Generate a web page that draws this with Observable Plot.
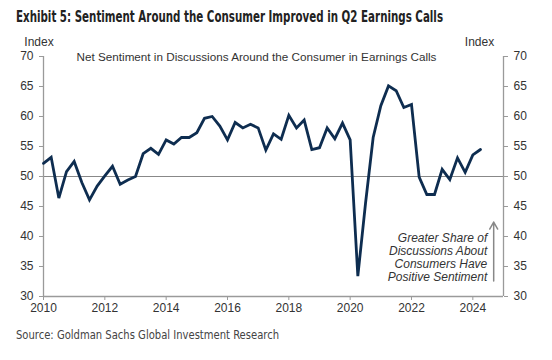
<!DOCTYPE html>
<html><head><meta charset="utf-8">
<script src="https://cdn.jsdelivr.net/npm/d3@7"></script>
<script src="https://cdn.jsdelivr.net/npm/@observablehq/plot@0.6"></script>
<style>
body{margin:0;background:#fff;width:552px;height:360px;overflow:hidden}
#title{height:30px;padding-left:16px;overflow:visible}
#title span{display:inline-block;font-family:"DejaVu Sans Condensed","Roboto",sans-serif;font-weight:bold;font-size:15.5px;color:#222;line-height:34px;white-space:nowrap;transform-origin:0 50%}
#chart{height:295px}
#source{height:20px;padding-left:16px}
#source span{display:inline-block;font-family:"DejaVu Sans Condensed","Roboto",sans-serif;font-size:13px;color:#444;line-height:18px;white-space:nowrap;transform-origin:0 50%}
</style></head>
<body>
<div id="title"><span>Exhibit 5: Sentiment Around the Consumer Improved in Q2 Earnings Calls</span></div>
<div id="chart"></div>
<div id="source"><span>Source: Goldman Sachs Global Investment Research</span></div>
<script>
const quarters = [
"2010Q1","2010Q2","2010Q3","2010Q4","2011Q1","2011Q2","2011Q3","2011Q4",
"2012Q1","2012Q2","2012Q3","2012Q4","2013Q1","2013Q2","2013Q3","2013Q4",
"2014Q1","2014Q2","2014Q3","2014Q4","2015Q1","2015Q2","2015Q3","2015Q4",
"2016Q1","2016Q2","2016Q3","2016Q4","2017Q1","2017Q2","2017Q3","2017Q4",
"2018Q1","2018Q2","2018Q3","2018Q4","2019Q1","2019Q2","2019Q3","2019Q4",
"2020Q1","2020Q2","2020Q3","2020Q4","2021Q1","2021Q2","2021Q3","2021Q4",
"2022Q1","2022Q2","2022Q3","2022Q4","2023Q1","2023Q2","2023Q3","2023Q4",
"2024Q1","2024Q2"];
const sentiment = [
52.2,53.2,46.4,50.8,52.5,49.0,46.1,48.4,
50.1,51.7,48.7,49.4,50.0,53.8,54.7,53.7,
56.1,55.4,56.5,56.5,57.3,59.7,60.0,58.4,
56.1,59.0,58.1,58.7,58.1,54.4,57.1,56.2,
60.2,58.1,59.4,54.5,54.8,58.1,56.3,58.9,
56.1,33.4,45.5,56.5,61.8,65.1,64.3,61.5,
62.0,49.9,47.0,47.0,51.2,49.5,53.1,50.7,
53.6,54.5];
const yTicks = [30,35,40,45,50,55,60,65,70];
const xTicks = [2010,2012,2014,2016,2018,2020,2022,2024];
const subtitle = "Net Sentiment in Discussions Around the Consumer in Earnings Calls";
const annotation = "Greater Share of\nDiscussions About\nConsumers Have\nPositive Sentiment";

const data = quarters.map((q, i) => ({
  t: +q.slice(0, 4) + (+q.slice(5) - 1) / 4,
  v: sentiment[i]
}));

const axisColor = "#9a9a9a";
const chart = Plot.plot({
  width: 552,
  height: 295,
  marginLeft: 43,
  marginRight: 49,
  marginTop: 26,
  marginBottom: 29,
  style: {fontFamily: "'Liberation Sans', Arial, sans-serif", fontSize: "12px", color: "#333", background: "#fff"},
  x: {domain: [2010, 2025]},
  y: {domain: [30, 70]},
  marks: [
    Plot.ruleY([50], {stroke: "#888", strokeWidth: 1}),
    Plot.ruleY([30], {stroke: axisColor, strokeWidth: 1.3}),
    Plot.ruleX([2010, 2025], {stroke: axisColor, strokeWidth: 1.3}),
    Plot.axisX({ticks: xTicks, tickFormat: d => String(d), tickSize: 4, tickPadding: 3, label: null, stroke: axisColor, fontSize: 12}),
    Plot.axisY({anchor: "left", ticks: yTicks, tickSize: 4, tickPadding: 6, label: null, stroke: axisColor, fontSize: 12}),
    Plot.axisY({anchor: "right", ticks: yTicks, tickSize: 4, tickPadding: 6, label: null, stroke: axisColor, fontSize: 12}),
    Plot.line(data, {x: "t", y: "v", stroke: "#0e2d50", strokeWidth: 2.8, strokeLinejoin: "miter", strokeMiterlimit: 3}),
    Plot.text([subtitle], {frameAnchor: "top", dx: -17, dy: -3.5, fontSize: 11.7, fill: "#333", text: d => d, wordSpacing: "1px"}),
    Plot.text(["Index"], {frameAnchor: "top-left", dx: -4.5, dy: -19, fontSize: 12, fill: "#333", text: d => d, textAnchor: "middle"}),
    Plot.text(["Index"], {frameAnchor: "top-right", dx: -24, dy: -19, fontSize: 12, fill: "#333", text: d => d, textAnchor: "middle"}),
    Plot.text([annotation], {x: () => 2024.47, y: () => 36.5, text: d => d, textAnchor: "end", lineAnchor: "middle", lineHeight: 1.07, fontStyle: "italic", fontSize: 12, fill: "#333"}),
    Plot.arrow([{x1: 2024.68, y1: 32.6, x2: 2024.68, y2: 42.4}], {x1: "x1", y1: "y1", x2: "x2", y2: "y2", stroke: "#888", strokeWidth: 1.5, headLength: 8})
  ]
});
document.getElementById("chart").appendChild(chart);

function fitWidth(sel, target) {
  const el = document.querySelector(sel);
  const w = el.getBoundingClientRect().width;
  if (w > 0) el.style.transform = `scaleX(${target / w})`;
}
fitWidth("#title span", 427);
fitWidth("#source span", 263);
</script>
</body></html>
